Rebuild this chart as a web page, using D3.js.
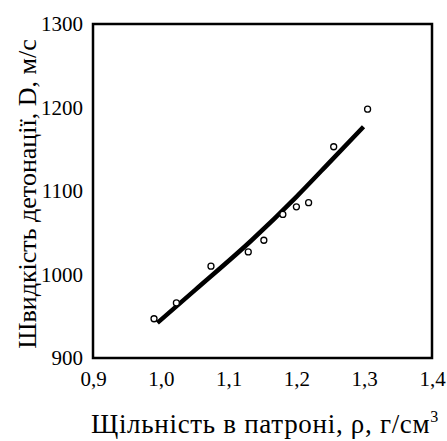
<!DOCTYPE html>
<html>
<head>
<meta charset="utf-8">
<script src="https://cdn.jsdelivr.net/npm/d3@7"></script>
<style>
  body { margin: 0; background: #fff; }
  text { font-family: "Liberation Serif", "Times New Roman", serif; fill: #000; }
</style>
</head>
<body>
<svg id="area" width="447" height="441"></svg>
<script>
// measured points
let density = [0.990, 1.023, 1.074, 1.129, 1.152, 1.180, 1.200, 1.218, 1.255, 1.305];
let speed   = [947, 966, 1010, 1027, 1041, 1072, 1081, 1086, 1153, 1198];

// fitted curve
let fitDensity = [0.995, 1.05, 1.134, 1.2, 1.252, 1.299];
let fitSpeed   = [942, 981, 1041, 1093, 1137, 1177];

let xTicks = [0.9, 1.0, 1.1, 1.2, 1.3, 1.4];
let yTicks = [900, 1000, 1100, 1200, 1300];

let svg = d3.select("#area");

let pLeft = 93, pRight = 432, pTop = 24, pBottom = 358;

let xScale = d3.scaleLinear()
    .domain([0.9, 1.4])
    .range([pLeft, pRight]);
let yScale = d3.scaleLinear()
    .domain([900, 1300])
    .range([pBottom, pTop]);

let fmt = d => d3.format(".1f")(d).replace(".", ",");

let bottomAxis = d3.axisBottom(xScale).tickValues(xTicks).tickFormat(fmt).tickSize(0).tickPadding(13);
let leftAxis = d3.axisLeft(yScale).tickValues(yTicks).tickFormat(d3.format("d")).tickSize(0).tickPadding(10);

svg.append("g")
    .attr("transform", "translate(0," + pBottom + ")")
    .call(bottomAxis)
    .call(g => g.select(".domain").remove())
    .selectAll("text")
    .style("font-size", "21px")
    .style("font-family", "Liberation Serif");

svg.append("g")
    .attr("transform", "translate(" + pLeft + ",0)")
    .call(leftAxis)
    .call(g => g.select(".domain").remove())
    .selectAll("text")
    .style("font-size", "21px")
    .style("font-family", "Liberation Serif");

// frame
svg.append("rect")
    .attr("x", pLeft)
    .attr("y", pTop)
    .attr("width", pRight - pLeft)
    .attr("height", pBottom - pTop)
    .style("fill", "none")
    .style("stroke", "#000")
    .style("stroke-width", "2.5px");

let fit = fitDensity.map((d, i) => ({x: d, y: fitSpeed[i]}));
let line = d3.line()
    .x(d => xScale(d.x))
    .y(d => yScale(d.y))
    .curve(d3.curveMonotoneX);

svg.append("path")
    .datum(fit)
    .attr("d", line)
    .style("fill", "none")
    .style("stroke", "#000")
    .style("stroke-width", "4.5px");

svg.selectAll("circle.pt")
    .data(density)
    .enter()
    .append("circle")
    .attr("class", "pt")
    .attr("cx", d => xScale(d))
    .attr("cy", (d, i) => yScale(speed[i]))
    .attr("r", 3)
    .style("fill", "#fff")
    .style("stroke", "#000")
    .style("stroke-width", "1.3px");

// axis titles
let xt = svg.append("text")
    .attr("x", 265)
    .attr("y", 433)
    .attr("text-anchor", "middle")
    .style("font-size", "27px")
    .style("letter-spacing", "0.7px");
xt.append("tspan").text("Щільність в патроні, ρ, г/см");
xt.append("tspan").attr("dy", -11).style("font-size", "16px").text("3");

svg.append("text")
    .attr("transform", "translate(36,194) rotate(-90)")
    .attr("text-anchor", "middle")
    .style("font-size", "26px")
    .text("Швидкість детонації, D, м/с");
</script>
</body>
</html>
